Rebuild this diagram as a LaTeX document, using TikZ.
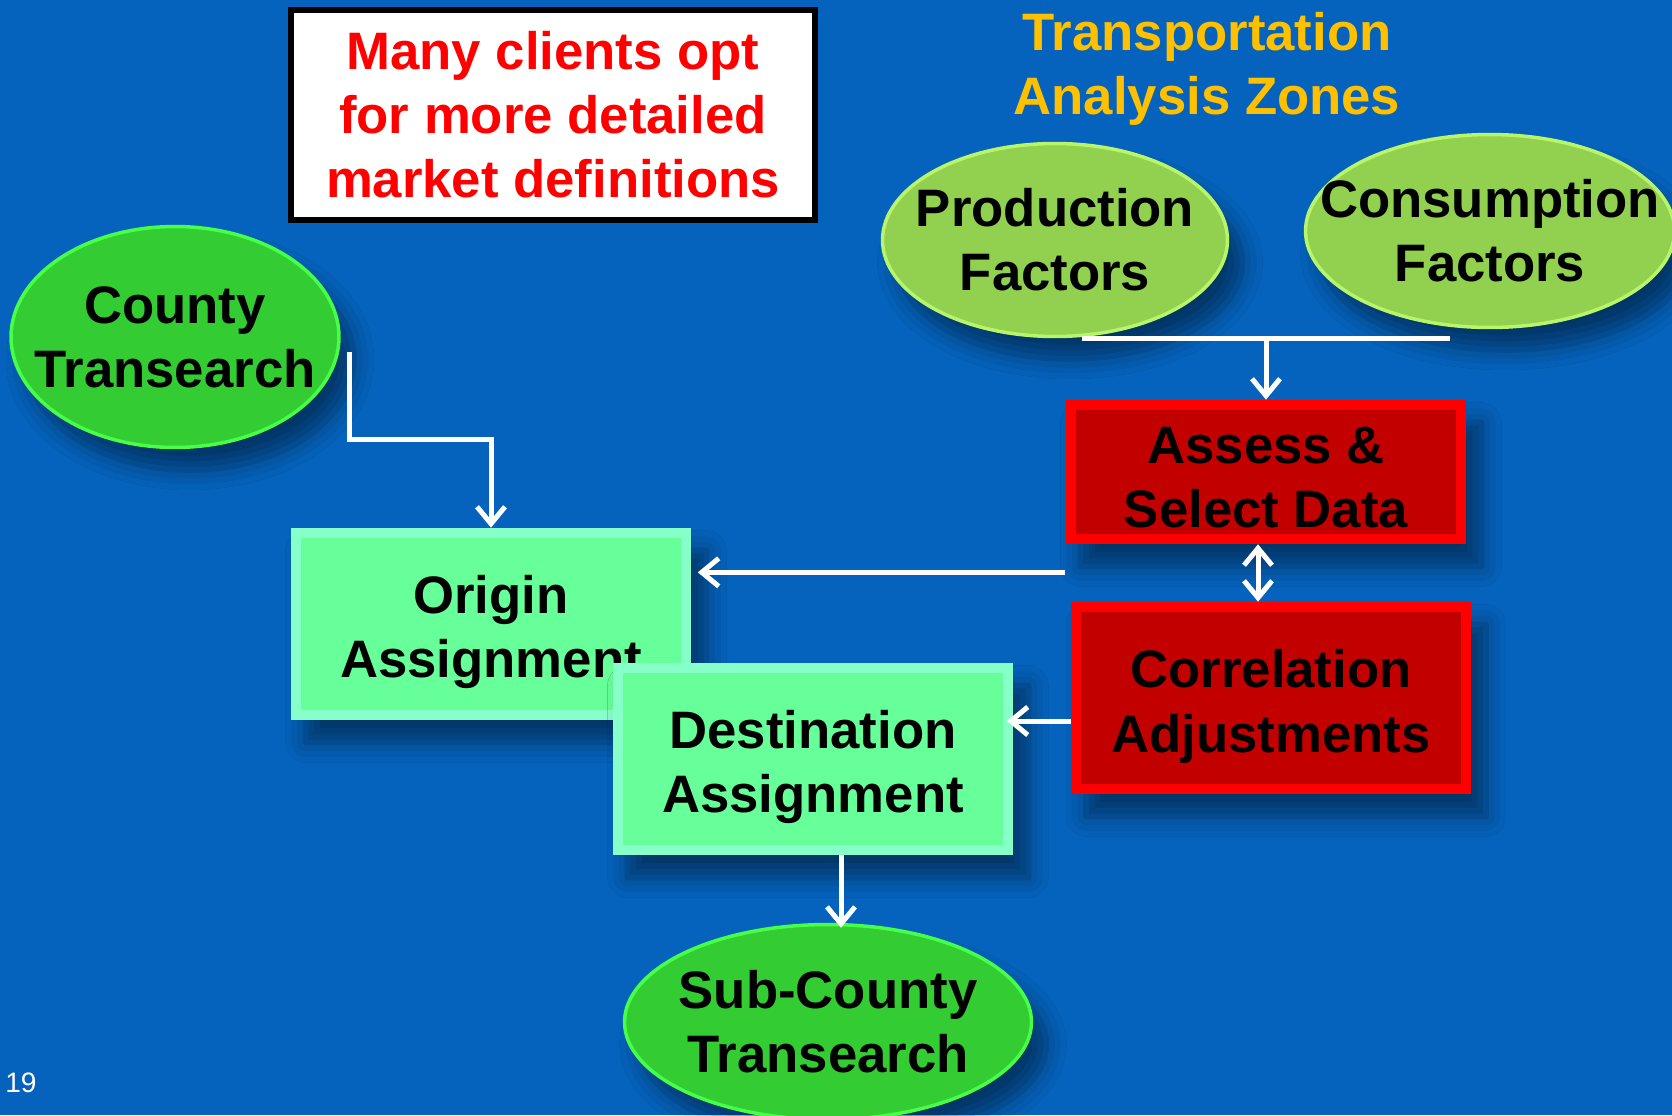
\documentclass[tikz,border=0pt]{standalone}
\usepackage{fontspec}
\setmainfont{Liberation Sans}
\usetikzlibrary{arrows.meta,shapes.geometric,shadows.blur}

\definecolor{slideblue}{RGB}{5,99,189}
\definecolor{grassgreen}{RGB}{51,204,51}
\definecolor{grassrim}{RGB}{70,255,70}
\definecolor{limegreen}{RGB}{146,208,80}
\definecolor{limerim}{RGB}{185,245,105}
\definecolor{mintgreen}{RGB}{102,255,153}
\definecolor{mintrim}{RGB}{135,255,200}
\definecolor{darkred}{RGB}{195,0,0}
\definecolor{brightred}{RGB}{255,0,0}
\definecolor{titlegold}{RGB}{255,192,0}

% pushes the two lines of a box label a little lower
\newcommand\boxlift[1][1.1cm]{\rule{0pt}{#1}}

\tikzset{
  bigtext/.style={font=\bfseries\fontsize{30}{36.5}\selectfont,align=center,text=black},
  softshadow/.style={blur shadow={shadow xshift=0.3cm,shadow yshift=-0.45cm,
    shadow blur radius=0.4cm,shadow opacity=45}},
  oval/.style 2 args={ellipse,bigtext,fill=#1,draw=#2,line width=0.07cm,
    inner xsep=-4cm,inner ysep=-2cm,softshadow},
  bevelbox/.style 2 args={rectangle,bigtext,fill=#1,inner sep=0pt,softshadow,
    path picture={\fill[#2] ([shift={(0.2cm,-0.2cm)}]path picture bounding box.north west)
      rectangle ([shift={(-0.2cm,0.2cm)}]path picture bounding box.south east);}},
  wire/.style={white,line width=0.1cm},
  wirearrow/.style={wire,-{Straight Barb[length=0.34cm,width=0.56cm]}},
}

\begin{document}
\begin{tikzpicture}[x=0.02cm,y=-0.02cm]
    \fill[slideblue] (0,0) rectangle (1672,1115);
    \useasboundingbox (0,0) rectangle (1672,1115);
    % note box and title
    \node[draw=black,fill=white,line width=0.12cm,minimum width=10.5cm,minimum height=4.2cm,
        font=\bfseries\fontsize{30}{36.5}\selectfont,text=brightred,align=center] (note) at (553,115)
        {Many clients opt\\for more detailed\\market definitions};
    \node[font=\bfseries\fontsize{30}{36.5}\selectfont,text=titlegold,align=center] (taz) at (1207,69)
        {Transportation\\Analysis Zones};
    % inputs
    \node[oval={grassgreen}{grassrim},minimum width=6.56cm,minimum height=4.42cm] (county) at (175,337) {County\\Transearch};
    \node[oval={limegreen}{limerim},minimum width=6.9cm,minimum height=3.86cm] (prod) at (1055,240) {Production\\Factors};
    \node[oval={limegreen}{limerim},minimum width=7.38cm,minimum height=3.86cm] (cons) at (1490,231) {Consumption\\Factors};
    % process boxes
    \node[bevelbox={brightred}{darkred},minimum width=8.02cm,minimum height=2.88cm] (assess) at (1266,472) {\boxlift[0.94cm]Assess \&\\Select Data};
    \node[bevelbox={brightred}{darkred},minimum width=8.0cm,minimum height=3.84cm] (corr) at (1271,698) {\boxlift Correlation\\Adjustments};
    \node[bevelbox={mintrim}{mintgreen},minimum width=8.02cm,minimum height=3.84cm] (origin) at (491,624) {\boxlift Origin\\Assignment};
    \node[bevelbox={mintrim}{mintgreen},minimum width=8.02cm,minimum height=3.84cm] (dest) at (813,759) {\boxlift Destination\\Assignment};
    \node[oval={grassgreen}{grassrim},minimum width=8.14cm,minimum height=3.9cm] (sub) at (828,1022) {Sub-County\\Transearch};
    \node[text=white,font=\fontsize{16}{19}\selectfont] (page) at (21,1083) {19};
    % connectors
    \draw[wire] ([xshift=0.54cm]prod.south) -- ([xshift=-0.8cm]prod.south -| cons.south);
    \draw[wirearrow] (prod.south -| assess.north) -- (assess.north);
    \draw[wire,{Straight Barb[length=0.34cm,width=0.56cm]}-{Straight Barb[length=0.34cm,width=0.56cm]}]
        ([xshift=-0.16cm]assess.south) -- ([xshift=-0.16cm]assess.south |- corr.north);
    \draw[wirearrow] ([yshift=-0.56cm]assess.south west) -- ([yshift=-0.56cm,xshift=0.12cm]assess.south west -| origin.east);
    \draw[wirearrow] ([yshift=-0.46cm]corr.west) -- ([yshift=-0.46cm,xshift=-0.14cm]corr.west -| dest.east);
    \draw[wirearrow] ([shift={(0.18cm,-0.3cm)}]county.east) -- ++(0,87) -| (origin.north);
    \draw[wirearrow] ([xshift=0.56cm]dest.south) -- ([xshift=0.56cm,yshift=-0.1cm]dest.south |- sub.north);
\end{tikzpicture}
\end{document}
